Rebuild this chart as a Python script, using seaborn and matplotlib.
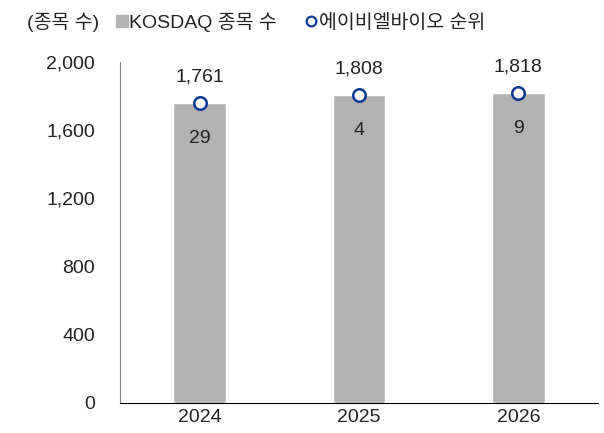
import matplotlib
matplotlib.use('Agg')
import matplotlib.pyplot as plt
import seaborn as sns
from matplotlib.lines import Line2D

# data
years = ['2024', '2025', '2026']
kosdaq_counts = [1761, 1808, 1818]
abl_rank = [29, 4, 9]
y_ticks = [0, 400, 800, 1200, 1600, 2000]

bar_color = '#b2b2b2'
navy = '#0a3a96'
txt = '#222222'

sns.set_style('white')
plt.rcParams['font.family'] = ['Liberation Sans', 'Noto Sans CJK KR', 'DejaVu Sans']

fig = plt.figure(figsize=(6.04, 4.33), dpi=100)
ax = fig.add_axes([0.1987, 0.0693, 0.7913, 0.7875])

sns.barplot(x=years, y=kosdaq_counts, color=bar_color, width=0.33,
            saturation=1, ax=ax)

pos = list(range(len(years)))
ax.plot(pos, kosdaq_counts, 'o', ms=9, mfc='white', mec=navy, mew=1.8,
        linestyle='none', zorder=5)

for i, (v, r) in enumerate(zip(kosdaq_counts, abl_rank)):
    ax.text(i, v + 150, f'{v:,}', ha='center', va='center', fontsize=14, color=txt)
    ax.text(i, v - 210, str(r), ha='center', va='center', fontsize=14, color=txt)

ax.set_ylim(0, 2000)
ax.set_xlim(-0.5, 2.5)
ax.set_yticks(y_ticks)
ax.set_yticklabels([f'{t:,}' for t in y_ticks], fontsize=14, color=txt)

# boundary ticks on the x axis, labels in the middle of each category
ax.set_xticks([-0.5, 0.5, 1.5, 2.5])
ax.set_xticklabels([])
ax.set_xticks(pos, minor=True)
ax.set_xticklabels(years, minor=True, fontsize=14, color=txt)
ax.tick_params(axis='x', which='major', direction='in', length=5, color='black')
ax.tick_params(axis='x', which='minor', length=0, pad=4)
ax.tick_params(axis='y', direction='out', length=3, color='#808080', pad=15)

for s in ['top', 'right']:
    ax.spines[s].set_visible(False)
ax.spines['left'].set_color('#808080')
ax.spines['bottom'].set_color('black')
ax.set_xlabel('')
ax.set_ylabel('')

fig.text(0.045, 0.949, '(종목 수)', fontsize=14, va='center', color=txt)
handles = [
    Line2D([], [], marker='s', linestyle='none', ms=8, mfc=bar_color, mec=bar_color),
    Line2D([], [], marker='o', linestyle='none', ms=7, mfc='white', mec=navy, mew=1.6),
]
fig.legend(handles, ['KOSDAQ 종목 수', '에이비엘바이오 순위'], ncol=2, loc='center left',
           bbox_to_anchor=(0.19, 0.949), frameon=False, fontsize=14,
           handletextpad=0.05, handlelength=0.7, columnspacing=1.4,
           labelcolor=txt, borderaxespad=0, borderpad=0)

fig.savefig('out.png', dpi=100)
